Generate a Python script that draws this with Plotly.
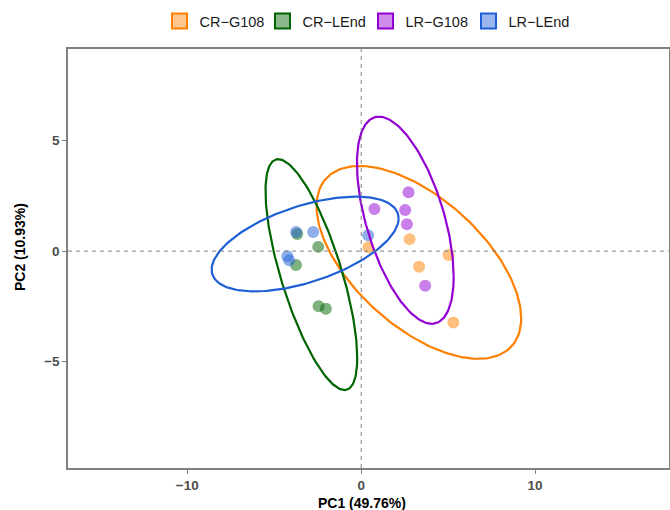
import numpy as np
import plotly.graph_objects as go

groups = ["CR−G108", "CR−LEnd", "LR−G108", "LR−LEnd"]
colors = ["#FF7F00", "#006400", "#9400D3", "#1F5FD6"]

cr_g108_x = [2.78, 0.42, 5.02, 3.33, 5.30]
cr_g108_y = [0.54, 0.17, -0.18, -0.71, -3.23]
cr_lend_x = [-3.68, -2.47, -3.75, -2.45, -2.03]
cr_lend_y = [0.77, 0.19, -0.63, -2.49, -2.61]
lr_g108_x = [2.72, 0.76, 2.53, 2.63, 3.68]
lr_g108_y = [2.66, 1.90, 1.86, 1.21, -1.57]
lr_lend_x = [-3.74, -2.76, -4.25, -4.14, 0.40]
lr_lend_y = [0.86, 0.86, -0.23, -0.41, 0.72]

xs = [cr_g108_x, cr_lend_x, lr_g108_x, lr_lend_x]
ys = [cr_g108_y, cr_lend_y, lr_g108_y, lr_lend_y]

x_ticks = [-10, 0, 10]
x_labels = ["−10", "0", "10"]
y_ticks = [-5, 0, 5]
y_labels = ["−5", "0", "5"]
x_title = "PC1 (49.76%)"
y_title = "PC2 (10.93%)"


def cov_trob(x, nu=5, maxit=25, tol=0.01):
    n, p = x.shape
    wt = np.ones(n)
    loc = x.mean(0)
    w = np.sqrt(wt)
    X = x - loc
    for _ in range(maxit):
        w0 = w
        X = x - loc
        U, d, Vt = np.linalg.svd(np.sqrt(w / w.sum())[:, None] * X, full_matrices=False)
        wX = X @ Vt.T @ np.diag(1 / d)
        Q = (wX ** 2).sum(1)
        w = (wt * (nu + p)) / (nu + Q)
        loc = (w[:, None] * x).sum(0) / w.sum()
        if np.all(np.abs(w - w0) < tol):
            break
    sw = np.sqrt(w)[:, None] * X
    cov = sw.T @ sw / wt.sum()
    return loc, cov


def ellipse(xv, yv, level=0.95, seg=200):
    data = np.column_stack([xv, yv])
    n = data.shape[0]
    center, shape = cov_trob(data)
    dfd = n - 1
    qf = (dfd / 2) * ((1 - level) ** (-2 / dfd) - 1)
    radius = np.sqrt(2 * qf)
    R = np.linalg.cholesky(shape).T
    ang = np.linspace(0, 2 * np.pi, seg)
    uc = np.column_stack([np.cos(ang), np.sin(ang)])
    e = center + radius * (uc @ R)
    return e[:, 0], e[:, 1]


def rgba(h, a):
    h = h.lstrip("#")
    r, g, b = int(h[0:2], 16), int(h[2:4], 16), int(h[4:6], 16)
    return f"rgba({r},{g},{b},{a})"


fig = go.Figure()

for g, c, xv, yv in zip(groups, colors, xs, ys):
    fig.add_trace(go.Scatter(
        x=xv, y=yv, mode="markers", showlegend=False,
        marker=dict(size=12, color=rgba(c, 0.5), line=dict(width=0)),
        hoverinfo="skip"))

for g, c, xv, yv in zip(groups, colors, xs, ys):
    ex, ey = ellipse(np.array(xv), np.array(yv))
    fig.add_trace(go.Scatter(
        x=ex, y=ey, mode="lines", showlegend=False,
        line=dict(color=c, width=2.2), hoverinfo="skip"))

for g, c in zip(groups, colors):
    fig.add_trace(go.Scatter(
        x=[None], y=[None], mode="markers", name=g,
        marker=dict(symbol="square", size=15, color=rgba(c, 0.45),
                    line=dict(color=c, width=2))))

fig.add_shape(type="line", xref="x", yref="paper", x0=0, x1=0, y0=0, y1=1,
              line=dict(color="#808080", width=1, dash="4px,4px"))
fig.add_shape(type="line", xref="paper", yref="y", x0=0, x1=1, y0=0, y1=0,
              line=dict(color="#808080", width=1, dash="4px,4px"))

W, H = 670, 510
fig.update_layout(
    width=W, height=H,
    margin=dict(l=68, r=1, t=49, b=42, autoexpand=False),
    paper_bgcolor="white", plot_bgcolor="white",
    font=dict(family="Arial, Liberation Sans, sans-serif", size=13, color="#000000"),
    legend=dict(orientation="h", x=0.495, xanchor="center", y=1 - 21 / H, yanchor="middle",
                yref="container", font=dict(size=14.5, color="#1a1a1a"),
                entrywidth=58, entrywidthmode="pixels",
                itemwidth=30, traceorder="normal"),
    showlegend=True,
)

fig.update_xaxes(range=[-16.86, 17.7], tickvals=x_ticks, ticktext=x_labels,
                 showgrid=False, zeroline=False, showline=True, mirror=True,
                 linecolor="#808080", linewidth=1.5, ticks="outside", ticklen=4,
                 tickcolor="#808080", tickwidth=1, automargin=False,
                 tickfont=dict(size=13.5, color="#4D4D4D", weight="bold"))
fig.update_yaxes(range=[-9.8, 9.13], tickvals=y_ticks, ticktext=y_labels,
                 showgrid=False, zeroline=False, showline=True, mirror=True,
                 linecolor="#808080", linewidth=1.5, ticks="outside", ticklen=4,
                 tickcolor="#808080", tickwidth=1, automargin=False,
                 tickfont=dict(size=13.5, color="#4D4D4D", weight="bold"))

fig.add_annotation(text=f"<b>{x_title}</b>", xref="paper", yref="paper",
                   x=(362 - 68) / (669 - 68), y=-(503 - 468) / (468 - 49),
                   xanchor="center", yanchor="middle", showarrow=False,
                   font=dict(size=14, color="#000"))
fig.add_annotation(text=f"<b>{y_title}</b>", xref="paper", yref="paper",
                   x=-(68 - 20) / (669 - 68), y=(468 - 247) / (468 - 49),
                   xanchor="center", yanchor="middle", showarrow=False, textangle=-90,
                   font=dict(size=14, color="#000"))

fig.write_html("out.html", config={"displayModeBar": False},
               post_script="document.body.style.margin='0';document.body.style.padding='0';")
